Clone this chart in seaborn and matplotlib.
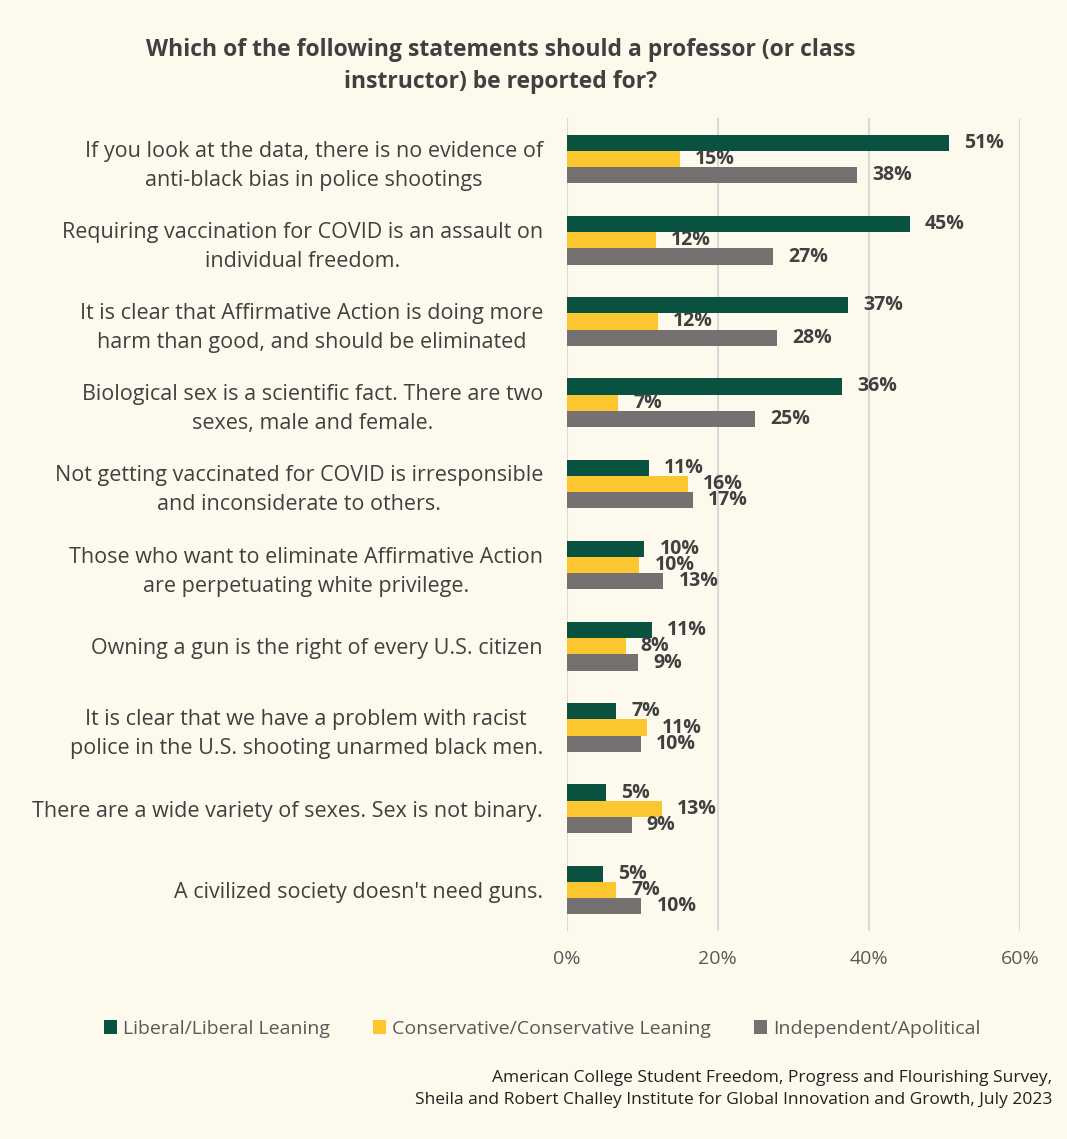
import pandas as pd
import seaborn as sns
import matplotlib.pyplot as plt
from matplotlib.patches import Patch

statements = [
    "If you look at the data, there is no evidence of\nanti-black bias in police shootings",
    "Requiring vaccination for COVID is an assault on\nindividual freedom.",
    "It is clear that Affirmative Action is doing more\nharm than good, and should be eliminated",
    "Biological sex is a scientific fact. There are two\nsexes, male and female.",
    "Not getting vaccinated for COVID is irresponsible\nand inconsiderate to others.",
    "Those who want to eliminate Affirmative Action\nare perpetuating white privilege.",
    "Owning a gun is the right of every U.S. citizen",
    "It is clear that we have a problem with racist\npolice in the U.S. shooting unarmed black men.",
    "There are a wide variety of sexes. Sex is not binary.",
    "A civilized society doesn't need guns.",
]
groups = ["Liberal/Liberal Leaning", "Conservative/Conservative Leaning", "Independent/Apolitical"]
liberal = [50.6, 45.4, 37.2, 36.4, 10.9, 10.3, 11.3, 6.6, 5.2, 4.8]
conservative = [15.0, 11.8, 12.1, 6.8, 16.0, 9.6, 7.8, 10.6, 12.6, 6.6]
independent = [38.4, 27.3, 27.8, 24.9, 16.7, 12.8, 9.4, 9.8, 8.6, 9.9]
colors = ["#0A5240", "#FBC630", "#767171"]

bg = "#FDF9EC"
txt = "#404040"

rows = []
for g, vals in zip(groups, [liberal, conservative, independent]):
    for s, v in zip(statements, vals):
        rows.append({"statement": s, "group": g, "value": v})
df = pd.DataFrame(rows)

sns.set_style("white")
plt.rcParams["font.family"] = ["Open Sans", "DejaVu Sans"]

fig = plt.figure(figsize=(10.67, 11.39), dpi=100, facecolor=bg)
ax = fig.add_axes([0.531, 0.183, 0.425, 0.713])
ax.set_facecolor(bg)

sns.barplot(data=df, y="statement", x="value", hue="group", orient="h",
            palette=colors, width=0.6, saturation=1, linewidth=0, ax=ax, legend=False)

for cont, vals in zip(ax.containers, [liberal, conservative, independent]):
    ax.bar_label(cont, labels=[f"{round(v)}%" for v in vals], padding=11,
                 fontsize=14, fontweight="bold", color=txt)

ax.set_xlim(0, 60)
ax.set_xticks([0, 20, 40, 60])
ax.set_xticklabels(["0%", "20%", "40%", "60%"])
ax.grid(axis="x", color="#D9D9D9", linewidth=1.5)
ax.set_axisbelow(True)
for sp in ax.spines.values():
    sp.set_visible(False)
ax.set_xlabel("")
ax.set_ylabel("")
ax.tick_params(axis="x", labelsize=14, labelcolor="#595959", pad=14, length=0)
ax.tick_params(axis="y", labelsize=15.5, labelcolor=txt, pad=17, length=0)
for lab in ax.get_yticklabels():
    lab.set_multialignment("center")
    lab.set_linespacing(1.5)

fig.text(0.469, 0.967, "Which of the following statements should a professor (or class\ninstructor) be reported for?",
         ha="center", va="top", fontsize=16.5, fontweight="bold", color=txt, linespacing=1.45)

handles = [Patch(facecolor=c, edgecolor="none") for c in colors]
fig.legend(handles, groups, loc="center", bbox_to_anchor=(0.508, 0.097), ncol=3, frameon=False,
           fontsize=14, labelcolor="#595959", handlelength=0.7, handleheight=0.7,
           handletextpad=0.3, columnspacing=2.2)

fig.text(0.986, 0.044, "American College Student Freedom, Progress and Flourishing Survey,\n"
         "Sheila and Robert Challey Institute for Global Innovation and Growth, July 2023",
         ha="right", va="center", fontsize=12.5, color="#202020", linespacing=1.45)

fig.savefig("out.png", dpi=100, facecolor=bg)
